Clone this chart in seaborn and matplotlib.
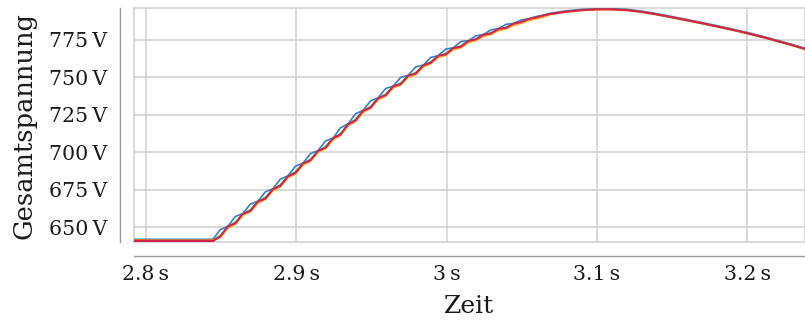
import numpy as np
import pandas as pd
import matplotlib
matplotlib.use("Agg")
import matplotlib.pyplot as plt
from matplotlib.ticker import FuncFormatter, FixedLocator
import seaborn as sns

# Time base: flat start, 5 ms steps during the rise, 10 ms steps afterwards
zeit_start = [2.79]
zeit_anstieg = list(np.round(2.8445 + 0.005 * np.arange(45), 4))
zeit_ende = [3.07, 3.08, 3.09, 3.10, 3.11, 3.12, 3.13, 3.14, 3.15,
             3.16, 3.17, 3.18, 3.19, 3.20, 3.21, 3.22, 3.23, 3.24]
zeit = zeit_start + zeit_anstieg + zeit_ende

# Total voltage of the five measured strings (V)
blau = [642.0, 642.0,
        648.4, 650.7, 657.2, 659.2, 665.5, 667.4, 673.7, 675.7, 682.2, 684.3,
        690.8, 692.8, 699.2, 701.2, 707.6, 709.6, 716.4, 719.0, 725.8, 728.0,
        734.4, 736.4, 742.6, 744.2, 750.0, 751.4, 757.0, 758.2, 763.3, 764.6,
        768.9, 769.8, 773.9, 774.5, 777.7, 778.6, 781.7, 782.5, 785.4, 786.0,
        788.2, 789.1, 790.6, 791.5,
        793.0, 794.4, 795.4, 795.9, 795.9, 795.4, 794.2, 792.5, 790.6, 788.6,
        786.6, 784.5, 782.3, 780.0, 777.5, 774.8, 772.0, 769.0]
gruen = [641.5, 641.5,
         644.7, 650.4, 653.5, 658.9, 661.8, 667.1, 670.0, 675.4, 678.5, 684.0,
         687.1, 692.5, 695.5, 700.9, 703.9, 709.3, 712.7, 718.7, 722.1, 727.7,
         730.7, 736.1, 738.9, 743.9, 746.3, 751.1, 753.3, 757.9, 760.4, 764.3,
         766.0, 769.5, 771.0, 774.2, 775.7, 778.3, 779.7, 782.2, 783.4, 785.7,
         787.0, 788.8, 790.0, 791.2,
         792.7, 794.1, 795.1, 795.6, 795.6, 795.1, 793.9, 792.2, 790.3, 788.3,
         786.3, 784.2, 782.0, 779.7, 777.2, 774.5, 771.7, 768.7]
orange = [641.3, 641.3,
          643.3, 649.4, 652.1, 657.9, 660.4, 666.1, 668.6, 674.4, 677.1, 683.0,
          685.7, 691.5, 694.1, 699.9, 702.5, 708.3, 711.3, 717.7, 720.7, 726.7,
          729.3, 735.1, 737.5, 742.9, 744.9, 750.1, 751.9, 756.9, 759.1, 763.3,
          764.7, 768.5, 769.7, 773.2, 774.6, 777.3, 778.6, 781.2, 782.3, 784.7,
          786.0, 787.8, 789.1, 790.2,
          792.2, 793.6, 794.6, 795.1, 795.1, 794.6, 793.4, 791.7, 789.8, 787.8,
          785.8, 783.7, 781.5, 779.2, 776.7, 774.0, 771.2, 768.2]
magenta = [640.5, 640.5,
           644.0, 650.6, 652.8, 659.1, 661.1, 667.3, 669.3, 675.6, 677.8, 684.2,
           686.4, 692.7, 694.8, 701.1, 703.2, 709.5, 712.0, 718.9, 721.4, 727.9,
           730.0, 736.3, 738.2, 744.1, 745.6, 751.3, 752.6, 758.1, 759.9, 764.5,
           765.5, 769.7, 770.5, 774.4, 775.4, 778.5, 779.4, 782.4, 783.1, 785.9,
           786.9, 789.0, 790.0, 791.4,
           792.6, 794.0, 795.0, 795.5, 795.5, 795.0, 793.8, 792.1, 790.2, 788.2,
           786.2, 784.1, 781.9, 779.6, 777.1, 774.4, 771.6, 768.6]
rot = [641.2, 641.2,
       643.8, 650.5, 652.6, 659.0, 660.9, 667.2, 669.1, 675.5, 677.6, 684.1,
       686.2, 692.6, 694.6, 701.0, 703.0, 709.4, 711.8, 718.8, 721.2, 727.8,
       729.8, 736.2, 738.0, 744.0, 745.4, 751.2, 752.4, 758.0, 759.7, 764.4,
       765.3, 769.6, 770.3, 774.3, 775.3, 778.4, 779.3, 782.3, 783.0, 785.8,
       786.8, 788.9, 790.0, 791.3,
       792.4, 793.8, 794.8, 795.3, 795.3, 794.8, 793.6, 791.9, 790.0, 788.0,
       786.0, 783.9, 781.7, 779.4, 776.9, 774.2, 771.4, 768.4]

reihen = ["blau", "gruen", "orange", "magenta", "rot"]
farben = ["#3480cc", "#7dbb42", "#f5a32a", "#c2187a", "#d7263d"]
werte = [blau, gruen, orange, magenta, rot]

x_ticks = [2.8, 2.9, 3.0, 3.1, 3.2]
y_ticks = [650, 675, 700, 725, 750, 775]

df = pd.concat(
    [pd.DataFrame({"Zeit": zeit, "Spannung": w, "Reihe": r})
     for r, w in zip(reihen, werte)],
    ignore_index=True,
)

sns.set_theme(style="whitegrid")
plt.rcParams["font.family"] = ["DejaVu Serif"]

fig = plt.figure(figsize=(8.05, 3.23), dpi=100)
ax = fig.add_axes([0.1665, 0.2517, 0.8335, 0.7226])

sns.lineplot(data=df, x="Zeit", y="Spannung", hue="Reihe", hue_order=reihen,
             palette=farben, estimator=None, sort=False, legend=False,
             linewidth=1.2, ax=ax)

ax.set_xlim(2.7921, 3.2385)
ax.set_ylim(640.4, 796.1)
ax.xaxis.set_major_locator(FixedLocator(x_ticks))
ax.yaxis.set_major_locator(FixedLocator(y_ticks))
ax.xaxis.set_major_formatter(FuncFormatter(lambda v, p: f"{v:g}\u2009s"))
ax.yaxis.set_major_formatter(FuncFormatter(lambda v, p: f"{v:g}\u2009V"))

ax.grid(True, color="#cfcfcf", linewidth=1.1)
ax.patch.set_edgecolor("#d9d9d9")
ax.patch.set_linewidth(1.4)

for side in ("top", "right"):
    ax.spines[side].set_visible(False)
for side in ("left", "bottom"):
    ax.spines[side].set_visible(True)
    ax.spines[side].set_position(("outward", 10))
    ax.spines[side].set_color("#9a9a9a")
    ax.spines[side].set_linewidth(1.0)

ax.tick_params(axis="both", which="major", length=4.5, width=1.0,
               color="#9a9a9a", labelsize=14.8, labelcolor="#1a1a1a")
ax.tick_params(axis="x", pad=2)
ax.tick_params(axis="y", pad=5)

ax.set_xlabel("Zeit", fontsize=18, labelpad=8, color="#1a1a1a")
ax.set_ylabel("Gesamtspannung", fontsize=18.5, labelpad=9, color="#1a1a1a")

fig.savefig("out.png", dpi=100)
